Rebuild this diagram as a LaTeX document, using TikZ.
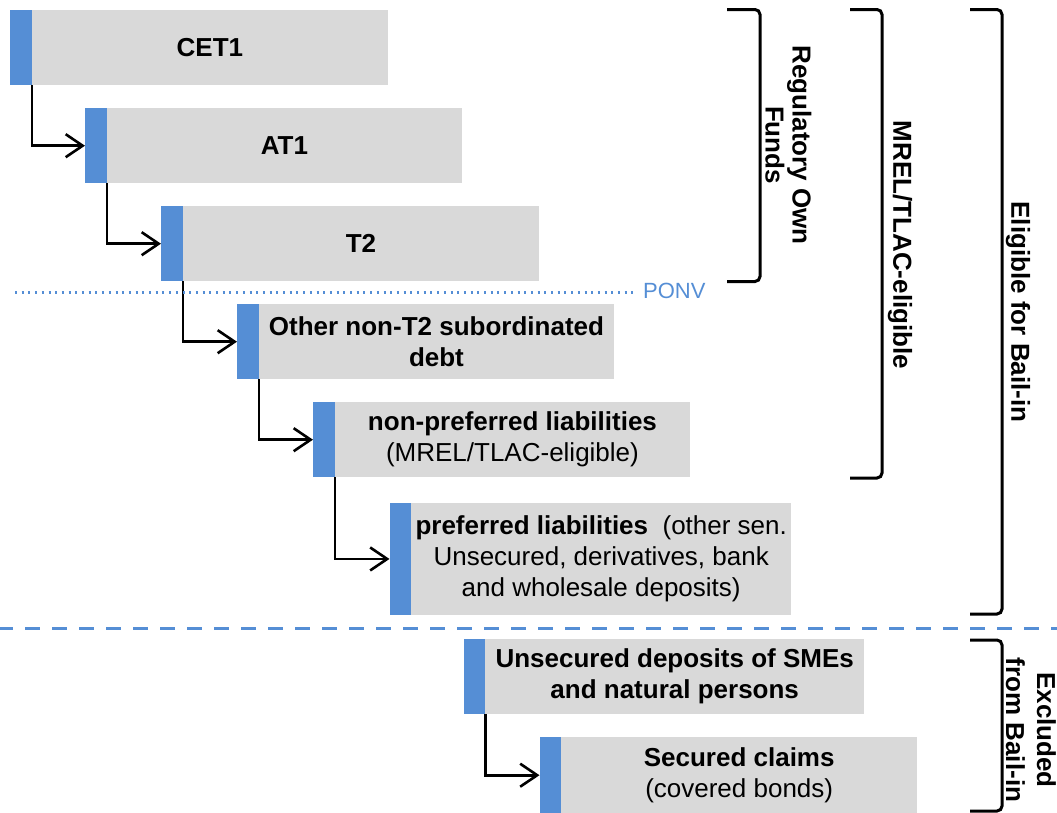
\documentclass[tikz,border=0pt]{standalone}
\usepackage{fontspec}
\setmainfont{Liberation Sans}
\usetikzlibrary{arrows.meta}
\definecolor{barblue}{HTML}{558ED5}
\definecolor{boxgray}{HTML}{D9D9D9}
\begin{document}
\begin{tikzpicture}[x=1pt,y=-1pt,
  gbox/.style={fill=boxgray, anchor=north west, inner sep=0pt, minimum height=75pt, align=center, font=\fontsize{26}{31}\selectfont},
  bbar/.style={fill=barblue, anchor=north west, inner sep=0pt, minimum width=21.5pt, minimum height=75pt},
  conn/.style={line width=2.6pt, -{Straight Barb[length=17pt,width=23pt]}},
  brk/.style={line width=3pt, rounded corners=5pt},
  lbl/.style={font=\bfseries\fontsize{26}{31}\selectfont, align=center, rotate=-90, inner sep=0pt},
  dotline/.style={barblue, line width=2.2pt, dash pattern=on 2pt off 4.7pt},
  dashline/.style={barblue, line width=3pt, dash pattern=on 15pt off 12pt}]
\useasboundingbox (0,0) rectangle (1057,812);

% boxes
\node[bbar, minimum height=75.5pt] (b1) at (10,9.5) {};
\node[gbox, minimum height=75.5pt, minimum width=356.5pt] (g1) at (31.5,9.5) {\bfseries CET1};
\node[bbar] (b2) at (85,108) {};
\node[gbox, minimum width=355.5pt] (g2) at (106.5,108) {\bfseries AT1};
\node[bbar] (b3) at (161,206) {};
\node[gbox, minimum width=356.5pt] (g3) at (182.5,206) {\bfseries T2};
\node[bbar] (b4) at (237,304) {};
\node[gbox, minimum width=355.5pt] (g4) at (258.5,304) {{\bfseries Other non-T2 subordinated}\\{\bfseries debt}};
\node[bbar] (b5) at (313,402) {};
\node[gbox, minimum width=355.5pt] (g5) at (334.5,402) {{\bfseries non-preferred liabilities}\\(MREL/TLAC-eligible)};
\node[bbar, minimum height=112.5pt] (b6) at (389.5,502.5) {};
\node[gbox, minimum height=112.5pt, minimum width=380pt] (g6) at (411,502.5) {{\bfseries preferred liabilities}\ \ (other sen.\\Unsecured, derivatives, bank\\and wholesale deposits)};
\node[bbar] (b7) at (463.5,639) {};
\node[gbox, minimum width=379pt] (g7) at (485,639) {{\bfseries Unsecured deposits of SMEs}\\{\bfseries and natural persons}};
\node[bbar, minimum height=76pt] (b8) at (539.5,737) {};
\node[gbox, minimum height=76pt, minimum width=356pt] (g8) at (561,737) {{\bfseries Secured claims}\\(covered bonds)};

% connectors
\draw[conn] (b1.south east) |- (b2.west);
\draw[conn] (b2.south east) |- (b3.west);
\draw[conn] (b3.south east) |- (b4.west);
\draw[conn] (b4.south east) |- (b5.west);
\draw[conn] (b5.south east) |- (b6.west);
\draw[conn] (b7.south east) |- (b8.west);

% PONV line
\coordinate (ponvL) at (15,292.5);
\coordinate (ponvR) at (635,292.5);
\draw[dotline] (ponvL) -- (ponvR);
\node[font=\fontsize{22}{26}\selectfont, text=barblue, anchor=west, inner sep=0pt] (ponv) at (643,291) {PONV};

% bail-in boundary
\coordinate (dL) at (-2,628.5);
\coordinate (dR) at (1060,628.5);
\draw[dashline] (dL) -- (dR);

% brackets
\draw[brk] (727,9.5) -- (760,9.5) -- (760,281.5) -- (727,281.5);
\draw[brk] (850,9.5) -- (882,9.5) -- (882,478) -- (850,478);
\draw[brk] (970,9.5) -- (1002,9.5) -- (1002,614) -- (970,614);
\draw[brk] (970,640) -- (1002,640) -- (1002,811) -- (970,811);

% bracket labels
\node[lbl, font=\bfseries\fontsize{26}{27}\selectfont] (rof) at (788.5,145) {Regulatory Own\\Funds};
\node[lbl] (mrel) at (900,245) {MREL/TLAC-eligible};
\node[lbl] (elig) at (1018,312) {Eligible for Bail-in};
\node[lbl] (excl) at (1031,730) {Excluded\\from Bail-in};
\end{tikzpicture}
\end{document}
